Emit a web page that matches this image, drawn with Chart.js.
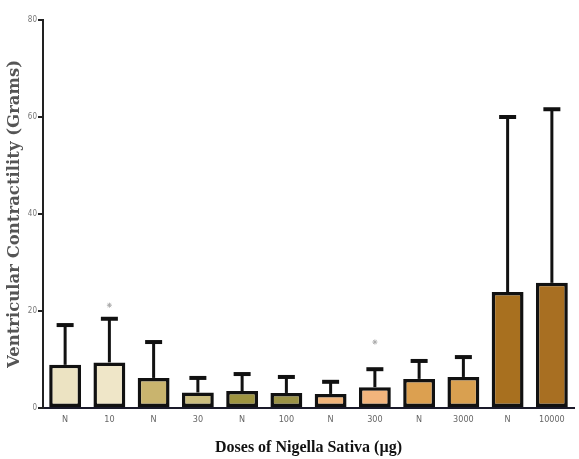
<!DOCTYPE html>
<html lang="en">
<head>
  <meta charset="UTF-8" />
  <title>Ventricular Contractility</title>
  <script src="https://cdn.jsdelivr.net/npm/chart.js"></script>
  <style>
    html, body { margin: 0; padding: 0; background: #fff; }
    #wrap { width: 579px; height: 459px; }
  </style>
</head>
<body>
  <div id="wrap"><canvas id="chart" width="579" height="459"></canvas></div>

  <script>
    // doses (N = normal / control before each dose)
    const doses = ["N", "10", "N", "30", "N", "100", "N", "300", "N", "3000", "N", "10000"];
    // mean contractility (grams)
    const means = [8.9, 9.4, 6.2, 3.2, 3.5, 3.1, 2.9, 4.3, 6.0, 6.4, 23.9, 25.8];
    // upper end of the error bars
    const upper = [17.1, 18.4, 13.6, 6.2, 7.0, 6.4, 5.4, 8.0, 9.7, 10.5, 60.0, 61.6];
    // significance markers (*)
    const stars = [null, 21.2, null, null, null, null, null, 13.6, null, null, null, null];
    const barColors = ["#ece3c2", "#efe6c8", "#c9b46e", "#cbbd7e", "#9e9440", "#9b9245",
                       "#f0b47a", "#f2b47c", "#dca050", "#d9a050", "#a8701f", "#a86f22"];
    const yTicks = [0, 20, 40, 60, 80];

    // draws the error bars above each bar
    const errorBars = {
      id: "errorBars",
      afterDatasetsDraw(chart) {
        const ctx = chart.ctx;
        const x = chart.scales.x, y = chart.scales.y;
        ctx.save();
        ctx.strokeStyle = "#111";
        means.forEach((m, i) => {
          const cx = x.getPixelForValue(i);
          const top = y.getPixelForValue(upper[i]);
          const base = y.getPixelForValue(m);
          ctx.lineWidth = 3;
          ctx.beginPath();
          ctx.moveTo(cx, base);
          ctx.lineTo(cx, top);
          ctx.stroke();
          ctx.lineWidth = 4;
          ctx.beginPath();
          ctx.moveTo(cx - 8.5, top);
          ctx.lineTo(cx + 8.5, top);
          ctx.stroke();
        });
        ctx.restore();
      }
    };

    new Chart(document.getElementById("chart"), {
      type: "bar",
      data: {
        labels: doses,
        datasets: [
          {
            type: "line",
            data: stars,
            showLine: false,
            pointStyle: "star",
            pointRadius: 2.5,
            borderColor: "#aaa",
            borderWidth: 1,
            backgroundColor: "#aaa"
          },
          {
            data: means,
            backgroundColor: barColors,
            borderColor: "#111",
            borderWidth: 3.5,
            borderSkipped: false,
            barPercentage: 0.72,
            categoryPercentage: 1
          }
        ]
      },
      options: {
        responsive: false,
        animation: false,
        layout: { padding: { top: 20, right: 0, bottom: 0, left: 0 } },
        plugins: {
          legend: { display: false },
          tooltip: { enabled: false }
        },
        scales: {
          x: {
            grid: { display: false, drawTicks: false },
            border: { color: "#1a1a2a", width: 2 },
            ticks: {
              padding: 6,
              color: "#666",
              autoSkip: false,
              maxRotation: 0,
              font: { family: "'Liberation Sans Narrow', 'DejaVu Sans Condensed', sans-serif", size: 9 }
            },
            title: {
              display: true,
              text: "Doses of Nigella Sativa (µg)",
              color: "#111",
              padding: { top: 10, bottom: 2 },
              font: { family: "'Liberation Serif', serif", size: 16, weight: "bold" }
            },
            afterFit(scale) { scale.height = 51; }
          },
          y: {
            min: 0,
            max: 80,
            afterBuildTicks(scale) { scale.ticks = yTicks.map(v => ({ value: v })); },
            grid: { display: true, drawOnChartArea: false, tickLength: 5, color: "#222", lineWidth: 2 },
            border: { color: "#222", width: 2 },
            ticks: {
              padding: 1,
              color: "#777",
              font: { family: "'Liberation Sans Narrow', 'DejaVu Sans Condensed', sans-serif", size: 8 }
            },
            title: {
              display: true,
              text: "Ventricular Contractility (Grams)",
              color: "#555",
              padding: { top: 5, bottom: 0 },
              font: { family: "'DejaVu Serif', serif", size: 16.5, weight: "bold" }
            },
            afterFit(scale) { scale.width = 43; }
          }
        }
      },
      plugins: [errorBars]
    });
  </script>
</body>
</html>
